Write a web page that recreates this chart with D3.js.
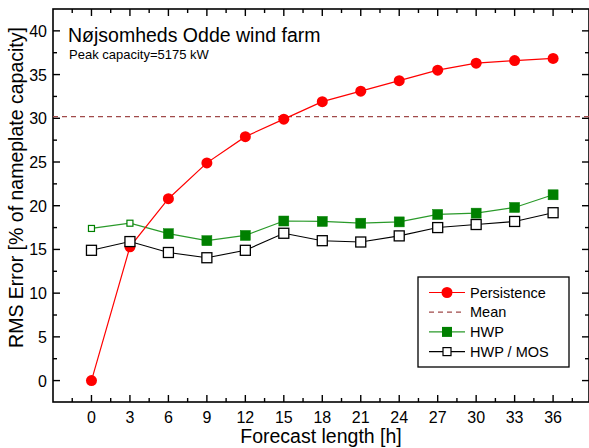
<!DOCTYPE html>
<html>
<head>
<meta charset="utf-8">
<script src="https://cdn.jsdelivr.net/npm/d3@7"></script>
<style>
  body { margin: 0; background: #fff; }
  svg { font-family: Arial, "Liberation Sans", sans-serif; }
</style>
</head>
<body>
<svg id="chart" width="589" height="448"></svg>
<script>
const hours       = [0, 3, 6, 9, 12, 15, 18, 21, 24, 27, 30, 33, 36];
const persistence = [0, 15.3, 20.8, 24.9, 27.9, 29.9, 31.9, 33.1, 34.3, 35.5, 36.3, 36.6, 36.85];
const hwp         = [17.4, 18.0, 16.8, 16.0, 16.6, 18.25, 18.2, 18.0, 18.15, 19.0, 19.15, 19.8, 21.25];
const hwpMos      = [14.9, 15.9, 14.65, 14.05, 14.9, 16.85, 16.0, 15.85, 16.55, 17.5, 17.85, 18.2, 19.2];
const meanValue   = 30.2;
const xTicks      = [0, 3, 6, 9, 12, 15, 18, 21, 24, 27, 30, 33, 36];
const yTicks      = [0, 5, 10, 15, 20, 25, 30, 35, 40];

const svg    = d3.select("#chart"),
      margin = {top: 9, right: 0, bottom: 46, left: 53},
      width  = +svg.attr("width")  - margin.left - margin.right,
      height = +svg.attr("height") - margin.top  - margin.bottom,
      x      = d3.scaleLinear().domain([-3, 38.8]).range([0, width]),
      y      = d3.scaleLinear().domain([-2.45, 42.5]).range([height, 0]),
      g      = svg.append("g")
                  .attr("transform", `translate(${margin.left},${margin.top})`);

const minorX = d3.range(-1.5, 38.8, 3);
const minorY = d3.range(-2.5, 42.5, 5).filter(v => v > -2.45);

// frame
g.append("rect")
  .attr("width", width).attr("height", height)
  .attr("fill", "none").attr("stroke", "#000").attr("stroke-width", 1.6);

// inward ticks on all four sides
function ticksX(vals, len, yPos, dir) {
  g.selectAll(null).data(vals).enter().append("line")
    .attr("x1", d => x(d)).attr("x2", d => x(d))
    .attr("y1", yPos).attr("y2", yPos + dir * len)
    .attr("stroke", "#000").attr("stroke-width", 1.4);
}
function ticksY(vals, len, xPos, dir) {
  g.selectAll(null).data(vals).enter().append("line")
    .attr("y1", d => y(d)).attr("y2", d => y(d))
    .attr("x1", xPos).attr("x2", xPos + dir * len)
    .attr("stroke", "#000").attr("stroke-width", 1.4);
}
ticksX(xTicks, 7, height, -1);
ticksX(minorX, 4, height, -1);
ticksX(xTicks, 7, 0, 1);
ticksX(minorX, 4, 0, 1);
ticksY(yTicks, 7, 0, 1);
ticksY(minorY, 4, 0, 1);
ticksY(yTicks, 7, width, -1);
ticksY(minorY, 4, width, -1);

// tick labels
g.selectAll(".xlab").data(xTicks).enter().append("text")
  .attr("x", d => x(d)).attr("y", height + 21)
  .attr("text-anchor", "middle").style("font-size", "16px")
  .text(d => d);
g.selectAll(".ylab").data(yTicks).enter().append("text")
  .attr("x", -6).attr("y", d => y(d) + 6)
  .attr("text-anchor", "end").style("font-size", "16px")
  .text(d => d);

// axis titles
g.append("text")
  .attr("x", width / 2).attr("y", height + 41)
  .attr("text-anchor", "middle").style("font-size", "19.5px")
  .text("Forecast length [h]");
g.append("text")
  .attr("transform", `translate(${-30},${178.5}) rotate(-90)`)
  .attr("text-anchor", "middle").style("font-size", "19.5px")
  .text("RMS Error [% of nameplate capacity]");

// chart titles
g.append("text")
  .attr("x", 15).attr("y", 33)
  .style("font-size", "19.5px")
  .text("Nøjsomheds Odde wind farm");
g.append("text")
  .attr("x", 16).attr("y", 50)
  .style("font-size", "13px")
  .text("Peak capacity=5175 kW");

// mean
g.append("line")
  .attr("x1", 0).attr("x2", width)
  .attr("y1", y(meanValue)).attr("y2", y(meanValue))
  .attr("stroke", "#a04a4a").attr("stroke-width", 1.2)
  .attr("stroke-dasharray", "5,4");

const line = d3.line().x((d, i) => x(hours[i])).y(d => y(d));

// HWP
g.append("path").datum(hwp).attr("d", line)
  .attr("fill", "none").attr("stroke", "#2a9a2a").attr("stroke-width", 1.2);
g.selectAll(".hwp").data(hwp).enter().append("rect")
  .attr("x", (d, i) => x(hours[i]) - (i < 2 ? 3 : 5))
  .attr("y", (d, i) => y(d) - (i < 2 ? 3 : 5))
  .attr("width", (d, i) => i < 2 ? 6 : 10)
  .attr("height", (d, i) => i < 2 ? 6 : 10)
  .attr("fill", (d, i) => i < 2 ? "#fff" : "#008000")
  .attr("stroke", "#008000").attr("stroke-width", (d, i) => i < 2 ? 1.2 : 0.5);

// Persistence
g.append("path").datum(persistence).attr("d", line)
  .attr("fill", "none").attr("stroke", "#ff0000").attr("stroke-width", 1.2);
g.selectAll(".pers").data(persistence).enter().append("circle")
  .attr("cx", (d, i) => x(hours[i])).attr("cy", d => y(d))
  .attr("r", 5.5).attr("fill", "#ff0000");

// HWP / MOS
g.append("path").datum(hwpMos).attr("d", line)
  .attr("fill", "none").attr("stroke", "#000").attr("stroke-width", 1.1);
g.selectAll(".mos").data(hwpMos).enter().append("rect")
  .attr("x", (d, i) => x(hours[i]) - 5).attr("y", d => y(d) - 5)
  .attr("width", 10).attr("height", 10)
  .attr("fill", "#fff").attr("stroke", "#000").attr("stroke-width", 1.3);

// legend
const lg = svg.append("g").attr("transform", "translate(418,277)");
lg.append("rect").attr("width", 151).attr("height", 90)
  .attr("fill", "#fff").attr("stroke", "#000").attr("stroke-width", 1.3);
const items = [
  {name: "Persistence", color: "#ff0000", marker: "circle"},
  {name: "Mean", color: "#a04a4a", marker: "dash"},
  {name: "HWP", color: "#2a9a2a", marker: "square", fill: "#008000"},
  {name: "HWP / MOS", color: "#000", marker: "open"}
];
items.forEach((it, i) => {
  const yy = 15.5 + i * 19.7;
  lg.append("line").attr("x1", 11).attr("x2", 47).attr("y1", yy).attr("y2", yy)
    .attr("stroke", it.color).attr("stroke-width", 1.2)
    .attr("stroke-dasharray", it.marker === "dash" ? "5,4" : null);
  if (it.marker === "circle")
    lg.append("circle").attr("cx", 29).attr("cy", yy).attr("r", 5.5).attr("fill", it.color);
  if (it.marker === "square")
    lg.append("rect").attr("x", 24).attr("y", yy - 5).attr("width", 10).attr("height", 10).attr("fill", it.fill);
  if (it.marker === "open")
    lg.append("rect").attr("x", 25).attr("y", yy - 4).attr("width", 8).attr("height", 8)
      .attr("fill", "#fff").attr("stroke", "#000").attr("stroke-width", 1.2);
  lg.append("text").attr("x", 52).attr("y", yy + 5)
    .style("font-size", "14.5px").text(it.name);
});
</script>
</body>
</html>
